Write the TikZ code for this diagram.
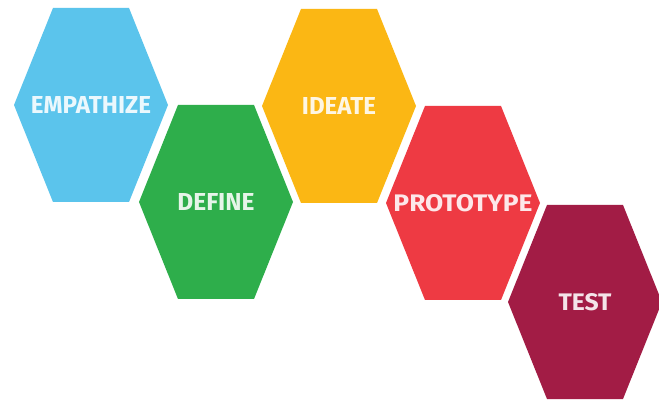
\documentclass[tikz,border=0pt]{standalone}
\usepackage{fontspec}
\setsansfont{Fira Sans}
\usepackage{graphicx}
\definecolor{cEmp}{HTML}{5BC4EC}
\definecolor{cDef}{HTML}{2EAE4B}
\definecolor{cIde}{HTML}{FBB714}
\definecolor{cPro}{HTML}{EE3A43}
\definecolor{cTes}{HTML}{A21C45}
\tikzset{lbl/.style={inner sep=0pt,font=\sffamily\bfseries}}
\newcommand\hexcell[6]{%
  \fill[#4] (#2-77,#3) -- (#2-38,#3-97) -- (#2+38,#3-97) -- (#2+77,#3)
     -- (#2+38,#3+97) -- (#2-38,#3+97) -- cycle;
  \node[lbl,text=white!88!#4] (#1) at (#2,#3) {\resizebox{#6pt}{17pt}{#5}};}
\begin{document}
\begin{tikzpicture}[x=1pt,y=-1pt]
\path[use as bounding box,fill=white] (0,0) rectangle (659,406);
\hexcell{emp}{91}{105}{cEmp}{EMPATHIZE}{120}
\hexcell{def}{216}{202}{cDef}{DEFINE}{77}
\hexcell{ide}{339}{106}{cIde}{IDEATE}{74}
\hexcell{pro}{463}{203}{cPro}{PROTOTYPE}{139}
\hexcell{tes}{585}{302}{cTes}{TEST}{53}
\end{tikzpicture}
\end{document}
